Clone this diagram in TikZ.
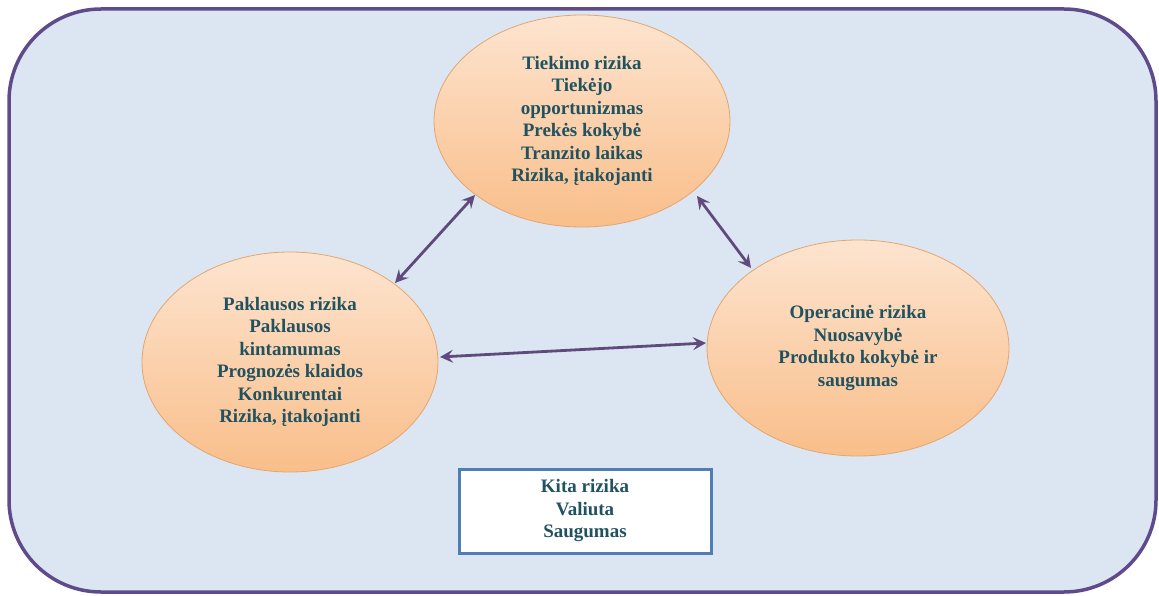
\documentclass[tikz,border=0pt]{standalone}
\usepackage{fontspec}
\setmainfont{Liberation Serif}
\usetikzlibrary{shapes.geometric,arrows.meta}
\definecolor{bgfill}{HTML}{DCE6F2}
\definecolor{frame}{HTML}{5F4B8B}
\definecolor{arrowc}{HTML}{604A7B}
\definecolor{txt}{HTML}{215260}
\definecolor{ellTop}{HTML}{FDE4CF}
\definecolor{ellBot}{HTML}{F9BE8A}
\definecolor{ellLine}{HTML}{E3A66F}
\definecolor{boxLine}{HTML}{4F7DB5}
\tikzset{
  riskell/.style={ellipse, draw=ellLine, line width=0.8pt, top color=ellTop, bottom color=ellBot,
    minimum width=296pt, minimum height=212pt, inner sep=0pt, align=center, text=txt,
    font=\fontsize{19}{22.5}\selectfont\bfseries},
  otherbox/.style={rectangle, draw=boxLine, line width=3pt, fill=white, minimum width=252pt,
    minimum height=84pt, align=center, text=txt, font=\fontsize{19}{22.5}\selectfont\bfseries},
  link/.style={draw=arrowc, line width=2.8pt, {Stealth[length=13pt,width=13pt,inset=5pt]}-{Stealth[length=13pt,width=13pt,inset=5pt]}}
}
\begin{document}
\begin{tikzpicture}[x=1pt,y=1pt]
\useasboundingbox (0,0) rectangle (1159,595);
\draw[frame, line width=3.5pt, fill=bgfill, rounded corners=92pt] (9,3) rectangle (1156,586);
\node[riskell] (top) at (582,474) {Tiekimo rizika\\Tiekėjo\\opportunizmas\\Prekės kokybė\\Tranzito laikas\\Rizika, įtakojanti};
\node[riskell, minimum width=296pt, minimum height=220pt] (left) at (290,233) {Paklausos rizika\\Paklausos\\kintamumas\\Prognozės klaidos\\Konkurentai\\Rizika, įtakojanti};
\node[riskell, minimum width=302pt, minimum height=216pt] (right) at (858,247) {Operacinė rizika\\Nuosavybė\\Produkto kokybė ir\\saugumas};
\node[otherbox] (other) at (585,84) {Kita rizika\\Valiuta\\Saugumas};
\coordinate (a1) at (395,312);
\coordinate (a2) at (475,400);
\coordinate (b1) at (697,399);
\coordinate (b2) at (751,327);
\coordinate (c1) at (440,238);
\coordinate (c2) at (706,252);
\draw[link] (a1) -- (a2);
\draw[link] (b1) -- (b2);
\draw[link] (c1) -- (c2);
\end{tikzpicture}
\end{document}
